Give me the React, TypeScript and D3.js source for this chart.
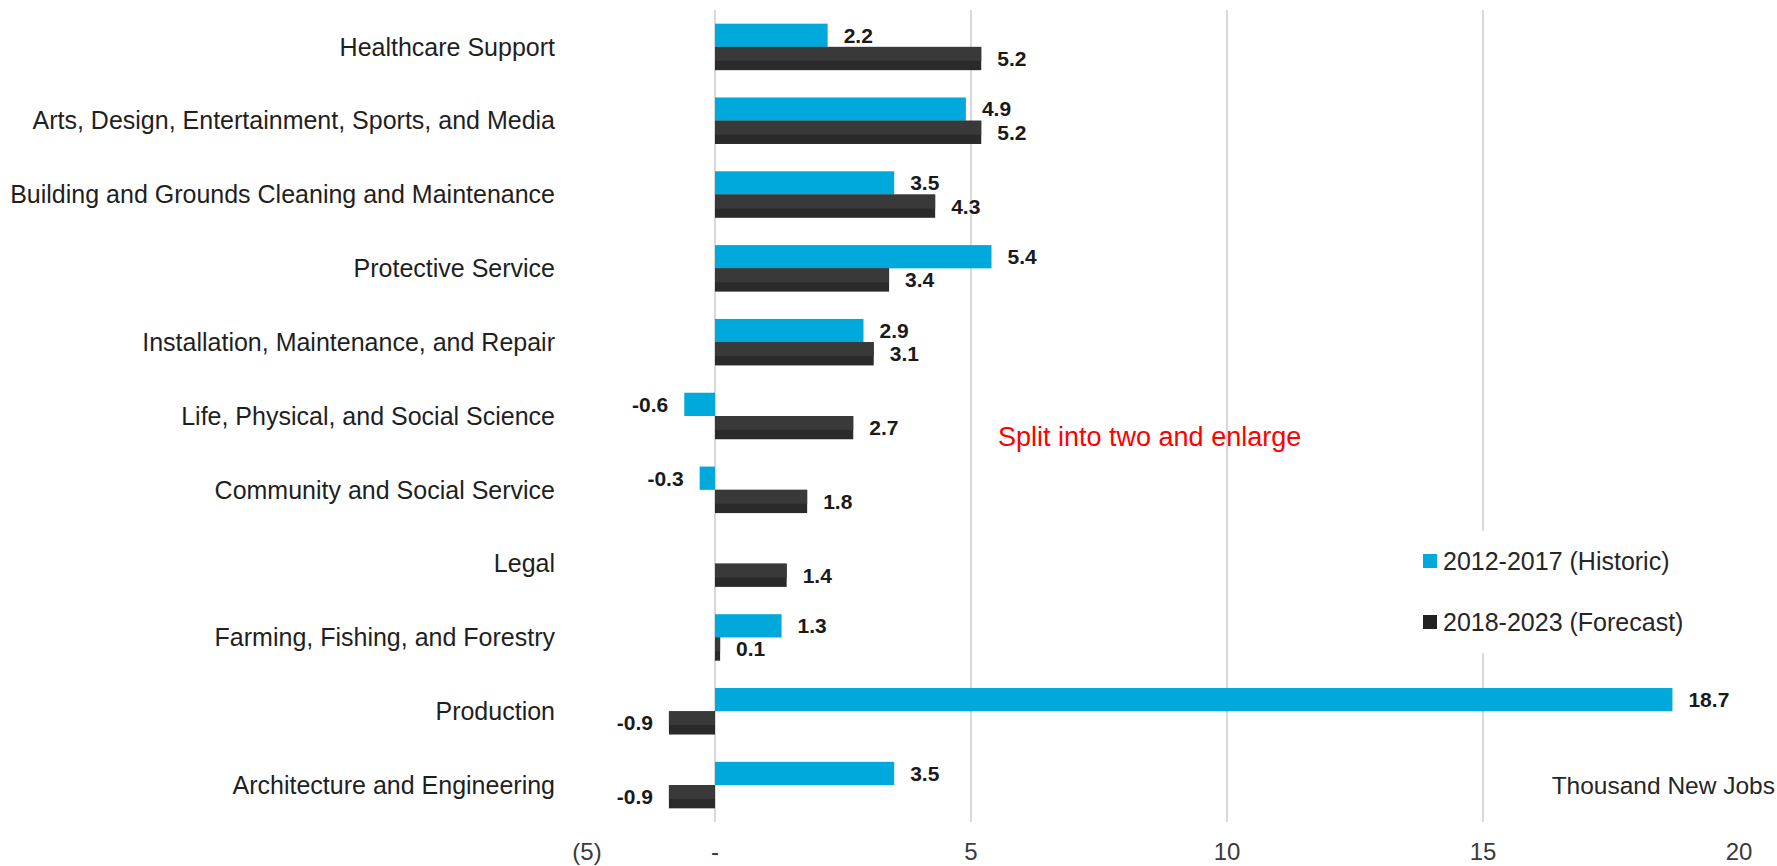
import React from "react";
import * as d3 from "d3";

const categories = [
  "Healthcare Support",
  "Arts, Design, Entertainment, Sports, and Media",
  "Building and Grounds Cleaning and Maintenance",
  "Protective Service",
  "Installation, Maintenance, and Repair",
  "Life, Physical, and Social Science",
  "Community and Social Service",
  "Legal",
  "Farming, Fishing, and Forestry",
  "Production",
  "Architecture and Engineering",
];
const historic: (number | null)[] = [2.2, 4.9, 3.5, 5.4, 2.9, -0.6, -0.3, null, 1.3, 18.7, 3.5];
const forecast: (number | null)[] = [5.2, 5.2, 4.3, 3.4, 3.1, 2.7, 1.8, 1.4, 0.1, -0.9, -0.9];
const tickValues = [-5, 0, 5, 10, 15, 20];
const tickLabels = ["(5)", "-", "5", "10", "15", "20"];
const gridValues = [0, 5, 10, 15];
const seriesNames = ["2012-2017 (Historic)", "2018-2023 (Forecast)"];

const W = 1777;
const H = 866;
const FONT = "'Liberation Sans', Arial, sans-serif";
const BLUE = "#00a9db";
const DARK_TOP = "#393939";
const DARK_BOT = "#2a2a2a";

export default function App() {
  const x = d3.scaleLinear().domain([-2.5, 20]).range([587, 1739]).clamp(true);
  const y = d3
    .scaleBand<string>()
    .domain(categories)
    .range([10, 822])
    .paddingInner(0.37)
    .paddingOuter(0.185);
  const inner = d3.scaleBand<string>().domain(["h", "f"]).range([0, y.bandwidth()]);
  const bh = inner.bandwidth();
  const x0 = x(0);
  const gap = 16;

  const barLabel = (v: number, yc: number, key: string) => {
    const xe = x(v);
    return (
      <text
        key={key}
        x={v >= 0 ? xe + gap : xe - gap}
        y={yc}
        dy="0.35em"
        textAnchor={v >= 0 ? "start" : "end"}
        fontFamily={FONT}
        fontWeight="bold"
        fontSize={21}
        fill="#1a1a1a"
      >
        {v.toFixed(1)}
      </text>
    );
  };

  return (
    <svg
      width={W}
      height={H}
      style={{ position: "absolute", left: 0, top: 0, background: "#fff" }}
    >
      {gridValues.map((g) => (
        <line
          key={"g" + g}
          x1={x(g)}
          x2={x(g)}
          y1={10}
          y2={822}
          stroke="#d9d9d9"
          strokeWidth={2}
        />
      ))}

      <rect x={1410} y={531} width={290} height={122} fill="#fff" />

      {categories.map((c, i) => {
        const y0 = y(c)!;
        const hv = historic[i];
        const fv = forecast[i];
        const yh = y0 + inner("h")!;
        const yf = y0 + inner("f")!;
        return (
          <g key={c}>
            {hv !== null && (
              <rect
                x={Math.min(x(hv), x0)}
                y={yh}
                width={Math.abs(x(hv) - x0)}
                height={bh}
                fill={BLUE}
              />
            )}
            {fv !== null && (
              <g>
                <rect
                  x={Math.min(x(fv), x0)}
                  y={yf}
                  width={Math.max(Math.abs(x(fv) - x0), 2)}
                  height={bh}
                  fill={DARK_BOT}
                />
                <rect
                  x={Math.min(x(fv), x0)}
                  y={yf}
                  width={Math.max(Math.abs(x(fv) - x0), 2)}
                  height={bh * 0.6}
                  fill={DARK_TOP}
                />
              </g>
            )}
            {hv !== null && barLabel(hv, yh + bh / 2, "lh" + i)}
            {fv !== null && barLabel(fv, yf + bh / 2, "lf" + i)}
            <text
              x={555}
              y={y0 + y.bandwidth() / 2}
              dy="0.35em"
              textAnchor="end"
              fontFamily={FONT}
              fontSize={25}
              fill="#1f1f1f"
            >
              {c}
            </text>
          </g>
        );
      })}

      {tickValues.map((t, i) => (
        <text
          key={"t" + t}
          x={x(t)}
          y={852}
          dy="0.35em"
          textAnchor="middle"
          fontFamily={FONT}
          fontSize={24}
          fill="#3a3a3a"
        >
          {tickLabels[i]}
        </text>
      ))}

      {seriesNames.map((s, i) => (
        <g key={s}>
          <rect
            x={1423}
            y={554 + i * 61}
            width={14}
            height={14}
            fill={i === 0 ? BLUE : "#222"}
          />
          <text
            x={1443}
            y={561 + i * 61}
            dy="0.35em"
            fontFamily={FONT}
            fontSize={25}
            fill="#262626"
          >
            {s}
          </text>
        </g>
      ))}

      <text
        x={1775}
        y={785}
        dy="0.35em"
        textAnchor="end"
        fontFamily={FONT}
        fontSize={24.5}
        fill="#262626"
      >
        Thousand New Jobs
      </text>

      <text
        x={998}
        y={437}
        dy="0.35em"
        fontFamily={FONT}
        fontSize={27}
        fill="#ff0000"
      >
        Split into two and enlarge
      </text>
    </svg>
  );
}
